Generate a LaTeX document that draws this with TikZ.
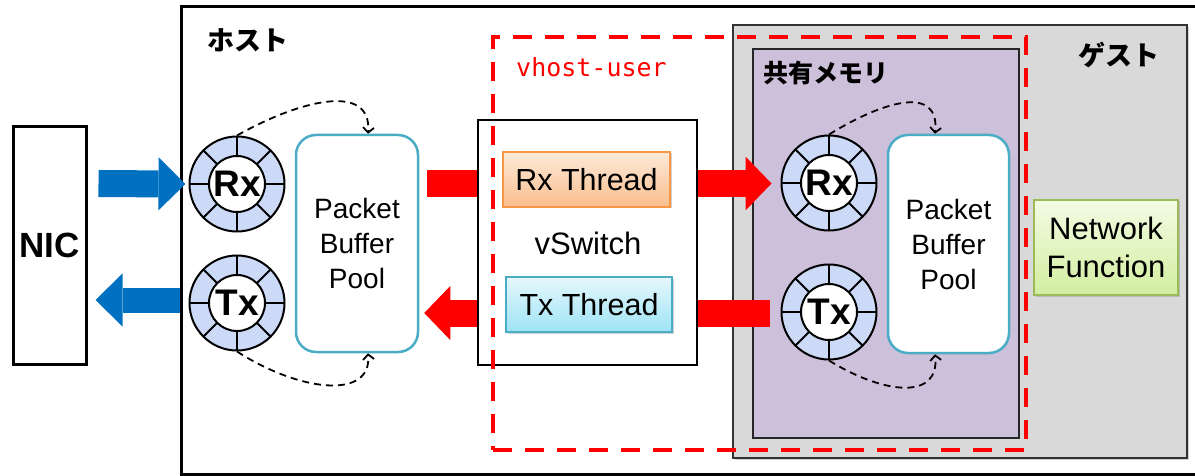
\documentclass[tikz,border=0pt]{standalone}
\usepackage{fontspec}
\setmainfont{Liberation Sans}
\newfontfamily\jpfont{Noto Sans CJK JP}
\newfontfamily\monofont{DejaVu Sans Mono}
\usetikzlibrary{arrows.meta,shadows}
\definecolor{ringblue}{RGB}{204,218,248}
\definecolor{poolline}{RGB}{75,172,198}
\definecolor{shmem}{RGB}{204,192,218}
\definecolor{guestgray}{RGB}{217,217,217}
\definecolor{nicblue}{RGB}{0,112,192}
\definecolor{vred}{RGB}{255,0,0}
\definecolor{rxtop}{RGB}{253,233,217}
\definecolor{rxbot}{RGB}{250,190,140}
\definecolor{rxline}{RGB}{247,150,70}
\definecolor{txtop}{RGB}{230,248,253}
\definecolor{txbot}{RGB}{158,227,245}
\definecolor{nftop}{RGB}{243,251,228}
\definecolor{nfbot}{RGB}{210,238,160}
\definecolor{nfline}{RGB}{155,187,89}
\newcommand\ringnode[3]{%
  \node[ringouter] (#1) at #2 {};
  \foreach \a in {0,45,...,315} \draw[ringspoke] (#1.center) ++(\a:28pt) -- ++(\a:19.5pt);
  \node[ringinner] (#1in) at (#1.center) {#3};
}
\begin{document}
\begin{tikzpicture}[x=1pt,y=-1pt,
  box/.style={draw=black,line width=2.5pt,inner sep=0pt,rectangle},
  ringouter/.style={circle,draw=black,line width=2pt,fill=ringblue,minimum size=95pt,inner sep=0pt},
  ringinner/.style={circle,draw=black,line width=2pt,fill=white,minimum size=56pt,inner sep=0pt,font=\bfseries\fontsize{37}{38}\selectfont},
  ringspoke/.style={line width=1.8pt,black},
  pool/.style={draw=poolline,line width=2.5pt,fill=white,rounded corners=20pt,inner sep=0pt,align=center,font=\fontsize{28}{35}\selectfont},
  thread/.style={rectangle,line width=1.2pt,inner sep=0pt,font=\fontsize{30.5}{32}\selectfont,drop shadow={shadow xshift=1.5pt,shadow yshift=-1.5pt,opacity=0.35}},
  bluearr/.style={line width=27pt,nicblue,-{Triangle[length=27pt,width=53pt,line width=0pt]}},
  redbar/.style={line width=27pt,vred},
  redarr/.style={line width=27pt,vred,-{Triangle[length=26pt,width=54pt,line width=0pt]}},
  dasharr/.style={line width=1.8pt,dash pattern=on 7pt off 5pt,-{Straight Barb[length=5pt,width=11pt]}},
  jplabel/.style={anchor=west,inner sep=0pt,font=\jpfont\bfseries\fontsize{27}{28}\selectfont}
]
\useasboundingbox (0,0) rectangle (1195,476);
% host
\node[box,line width=3pt,fill=white,minimum width=1034pt,minimum height=467pt] (host) at (698,240.5) {};
\node[jplabel] (hostlbl) at (207,40) {ホスト};
% NIC
\node[box,line width=3pt,fill=white,minimum width=73pt,minimum height=237pt,font=\bfseries\fontsize{35}{38}\selectfont] (nic) at (49.5,245.5) {NIC};
% guest
\node[box,draw=black!80,line width=2pt,fill=guestgray,minimum width=454pt,minimum height=433pt,drop shadow={shadow xshift=2pt,shadow yshift=-2pt,opacity=0.35}] (guest) at (960,241.5) {};
\node[jplabel] (guestlbl) at (1078,55) {ゲスト};
\node[box,draw=black!85,line width=2pt,fill=shmem,minimum width=266pt,minimum height=389pt] (shm) at (886,243.5) {};
\node[jplabel,font=\jpfont\bfseries\fontsize{25}{27}\selectfont] (shmlbl) at (763,73) {共有メモリ};
% vSwitch
\node[box,fill=white,minimum width=219pt,minimum height=245pt] (vsw) at (587.5,242.5) {};
\node[inner sep=0pt,font=\fontsize{31}{32}\selectfont] (vswlbl) at (588,243) {vSwitch};
\node[thread,draw=rxline,top color=rxtop,bottom color=rxbot,minimum width=167pt,minimum height=55pt] (rxth) at (586.5,179.5) {Rx Thread};
\node[thread,draw=poolline,top color=txtop,bottom color=txbot,minimum width=166pt,minimum height=55pt] (txth) at (589,304.5) {Tx Thread};
% vhost-user dashed region
\node[draw=vred,line width=4pt,dash pattern=on 19pt off 13pt,minimum width=533pt,minimum height=413pt,inner sep=0pt] (vhost) at (759.5,243.5) {};
\node[anchor=west,inner sep=0pt,text=vred,font=\monofont\fontsize{25}{26}\selectfont] (vhostlbl) at (516,67) {vhost-user};
% Network Function
\node[thread,draw=nfline,top color=nftop,bottom color=nfbot,minimum width=144pt,minimum height=95pt,align=center,font=\fontsize{31}{38}\selectfont] (nf) at (1106,247.5) {Network\\Function};
% pools
\node[pool,minimum width=122pt,minimum height=217pt] (hbuf) at (357,243.5) {Packet\\Buffer\\Pool};
\node[pool,minimum width=121pt,minimum height=218pt] (gbuf) at (948.5,244) {Packet\\Buffer\\Pool};
% rings
\ringnode{hrx}{(237,184)}{Rx}
\ringnode{htx}{(237,303)}{Tx}
\ringnode{grx}{(829,183)}{Rx}
\ringnode{gtx}{(829,312)}{Tx}
% row coordinates
\coordinate (rowrx) at (0,183.5);
\coordinate (rowtx) at (0,313);
\coordinate (rowbtx) at (0,300);
% blue arrows
\draw[bluearr,shorten <=11pt] (nic.east |- rowrx) -- ([xshift=-3pt]hrx.west);
\draw[bluearr,line width=25pt,shorten >=8pt] (host.west |- rowbtx) -- (nic.east |- rowbtx);
% red arrows
\draw[redbar,shorten <=8pt] (hbuf.east |- rowrx) -- (vsw.west |- rowrx);
\draw[redarr,shorten >=5pt] (vsw.west |- rowtx) -- (hbuf.east |- rowtx);
\draw[redarr,shorten >=9pt] (vsw.east |- rowrx) -- (grx.west |- rowrx);
\draw[redbar,shorten >=11pt] (vsw.east |- rowtx) -- (gtx.west |- rowtx);
% dashed recycle arrows
\draw[dasharr] (hrx.north) .. controls (300,100) and (372,82) .. ([xshift=11pt]hbuf.north);
\draw[dasharr] (htx.south) .. controls (300,392) and (372,400) .. ([xshift=11pt]hbuf.south);
\draw[dasharr] (grx.north) .. controls (885,100) and (940,85) .. ([xshift=-13.5pt]gbuf.north);
\draw[dasharr] (gtx.south) .. controls (885,395) and (940,400) .. ([xshift=-13.5pt]gbuf.south);
\end{tikzpicture}
\end{document}
